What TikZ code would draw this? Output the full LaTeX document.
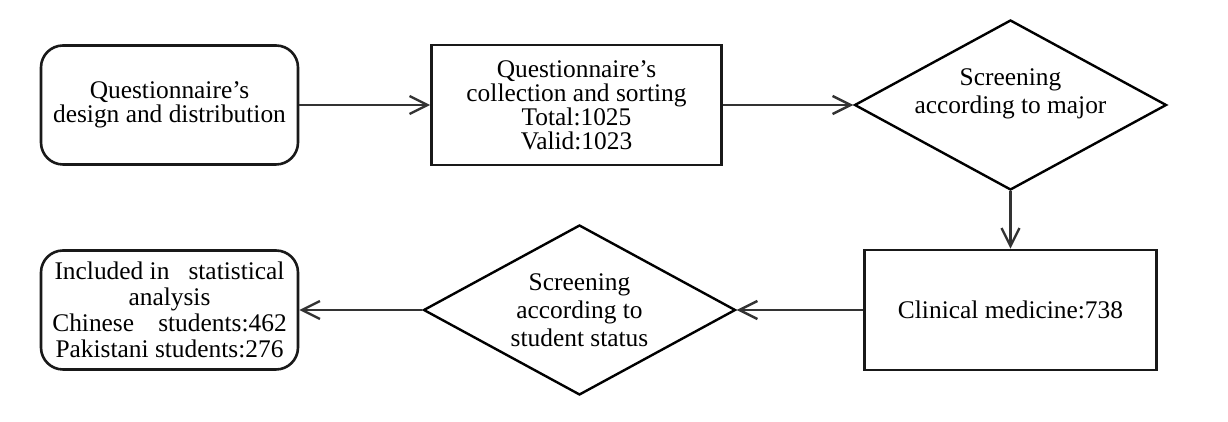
\documentclass[tikz,border=0pt]{standalone}
\usepackage{fontspec}
\setmainfont{Liberation Serif}
\usetikzlibrary{shapes.geometric,arrows.meta}

\begin{document}
\begin{tikzpicture}[x=0.5pt, y=0.5pt,
	every node/.style={font=\fontsize{12.7}{12}\selectfont, align=center, inner sep=0pt},
	stadium/.style={draw=black!90, line width=1.3pt, rounded corners=11pt, minimum width=128.5pt, minimum height=59.5pt},
	plainbox/.style={draw=black!90, line width=1.3pt, minimum width=145pt, minimum height=60pt},
	choice/.style={draw=black, line width=1.2pt, shape=diamond, aspect=1.84, minimum width=156pt, minimum height=85pt, font=\fontsize{12.7}{14}\selectfont},
	flow/.style={-{Straight Barb[length=9pt,width=9pt]}, draw=black!80, line width=1.2pt}]
	\useasboundingbox (0,0) rectangle (1228,422);
	% top row
	\node[stadium] (design) at (169.5,317) {Questionnaire’s\\design and distribution};
	\node[plainbox] (collect) at (576.5,317) {Questionnaire’s\\collection and sorting\\Total:1025\\Valid:1023};
	\node[choice] (major) at (1010.5,317) {\raisebox{2.5pt}[0pt][0pt]{\begin{tabular}{@{}c@{}}Screening\\according to major\end{tabular}}};
	% bottom row
	\node[plainbox, minimum width=146pt] (clinical) at (1010.5,112) {Clinical medicine:738};
	\node[choice] (status) at (579.5,112) {Screening\\according to\\student status};
	\node[stadium, font=\fontsize{12.7}{13}\selectfont] (included) at (169.5,112) {Included in\hspace{0.75em}statistical\\analysis\\Chinese\hspace{0.95em}students:462\\Pakistani students:276};
	\draw[flow] (design) -- (collect);
	\draw[flow] (collect) -- (major);
	\draw[flow] (major) -- (clinical);
	\draw[flow] (clinical) -- (status);
	\draw[flow] (status) -- (included);
\end{tikzpicture}
\end{document}
